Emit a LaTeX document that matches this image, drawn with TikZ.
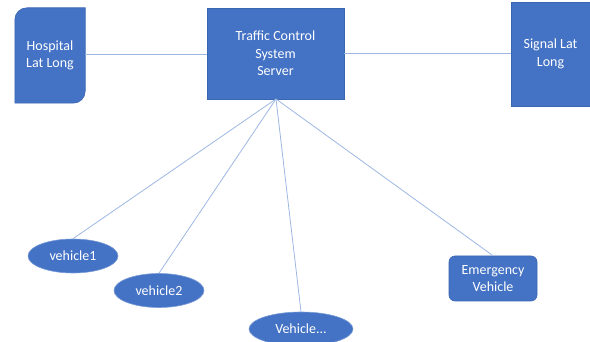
\documentclass[tikz,border=0pt]{standalone}
\usepackage{fontspec}
\setmainfont{Carlito}
\usetikzlibrary{shapes.geometric}
\definecolor{boxblue}{HTML}{4472C4}
\definecolor{edgeblue}{HTML}{3A65B0}
\definecolor{linkblue}{HTML}{9DB7E2}
\tikzset{
  lbl/.style={text=white, font=\fontsize{14}{17.5}\selectfont, align=center, inner sep=0pt},
  boxnode/.style={lbl, fill=boxblue, draw=edgeblue, line width=0.6pt},
  carnode/.style={lbl, ellipse, fill=boxblue, draw=linkblue!60!boxblue, line width=0.6pt, minimum width=90pt, minimum height=34pt},
  link/.style={draw=linkblue, line width=0.8pt}
}
\begin{document}
\begin{tikzpicture}[x=1pt,y=-1pt]
\useasboundingbox (0,0) rectangle (590,342);
% hospital (round diagonal corners)
\node[lbl, minimum width=70pt, minimum height=95pt] (hosp) at (50,55.5) {};
\fill[boxblue, draw=edgeblue, line width=0.6pt]
  ([yshift=-12pt]hosp.north west) arc[start angle=180, end angle=90, radius=12pt]
  -- (hosp.north east) -- ([yshift=12pt]hosp.south east)
  arc[start angle=0, end angle=-90, radius=12pt]
  -- (hosp.south west) -- cycle;
\node[lbl] at (hosp.center) {Hospital\\Lat Long};
% server
\node[boxnode, minimum width=137pt, minimum height=91pt] (srv) at (275.5,53.5) {Traffic Control\\System\\Server};
% signal
\node[boxnode, minimum width=79pt, minimum height=104pt] (sig) at (550.5,54) {Signal Lat\\Long};
% vehicles
\node[carnode] (v1) at (73,256) {vehicle1};
\node[carnode] (v2) at (159,290.5) {vehicle2};
\node[carnode, minimum width=104pt] (v3) at (301,329) {Vehicle...};
\node[boxnode, rounded corners=6pt, minimum width=88pt, minimum height=45pt] (ev) at (493,278.5) {Emergency\\Vehicle};
% hub
\coordinate (hub) at (276,99);
% links
\draw[link] (hosp.east |- 0,54) -- (srv.west |- 0,54);
\draw[link] (srv.east |- 0,53) -- (sig.west |- 0,53);
\draw[link] (hub) -- (v1.north);
\draw[link] (hub) -- (v2.north);
\draw[link] (hub) -- (v3.north);
\draw[link] (hub) -- (ev.north);
\end{tikzpicture}
\end{document}
